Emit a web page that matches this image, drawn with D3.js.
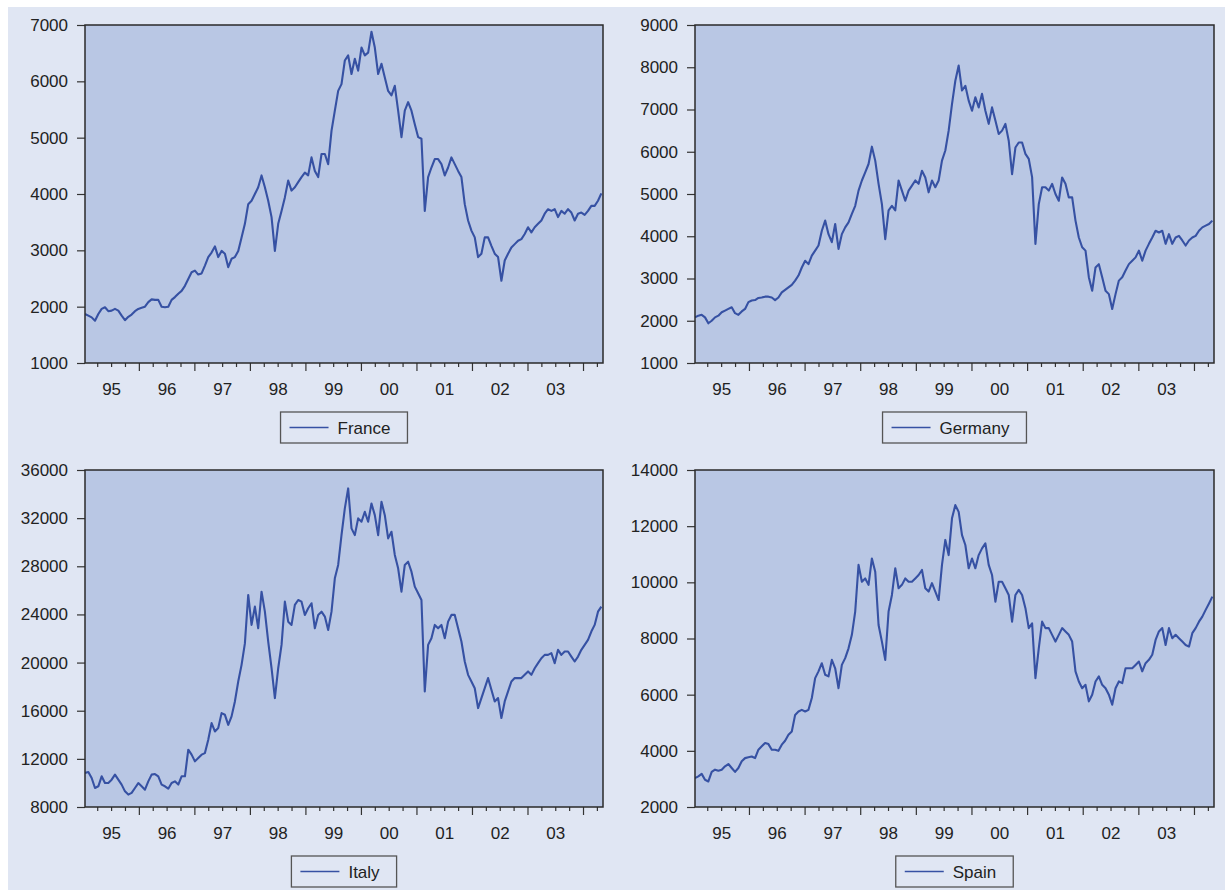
<!DOCTYPE html>
<html>
<head>
<meta charset="utf-8">
<script src="https://cdn.jsdelivr.net/npm/d3@7"></script>
<style>
  body { margin: 0; background: #fff; }
  text { font-family: "Liberation Sans", Arial, Helvetica, sans-serif; }
</style>
</head>
<body>
<div id="chart"></div>
<script>
// sampling grid: decimal years, one reading every 0.06 year (~3 weeks)
const startYear = 1995.03;
const stepYear = 0.06;
const yearLabels = ["95", "96", "97", "98", "99", "00", "01", "02", "03"];

const france = [1870,1840,1810,1750,1870,1960,1990,1920,1930,1960,
  1930,1840,1760,1820,1860,1920,1960,1980,2000,2080,
  2130,2120,2120,2000,1990,2000,2120,2170,2230,2280,
  2370,2490,2610,2640,2570,2590,2730,2880,2960,3070,
  2880,2990,2940,2700,2850,2880,2990,3230,3470,3820,
  3880,4000,4120,4330,4120,3880,3590,2990,3470,3700,
  3940,4240,4060,4120,4210,4300,4380,4330,4650,4410,
  4300,4710,4710,4530,5120,5480,5830,5950,6370,6460,
  6130,6400,6190,6600,6460,6510,6880,6600,6130,6310,
  6070,5830,5750,5920,5480,5010,5480,5630,5480,5240,
  5010,4980,3700,4300,4470,4620,4620,4530,4330,4470,
  4650,4530,4410,4300,3820,3530,3350,3230,2880,2940,
  3230,3230,3080,2940,2880,2460,2820,2940,3050,3110,
  3170,3200,3290,3410,3320,3410,3470,3530,3650,3730,
  3700,3730,3590,3700,3650,3730,3670,3530,3650,3670,
  3630,3700,3790,3790,3880,4010];

const germany = [2080,2120,2140,2080,1940,2000,2080,2120,2200,2240,
  2280,2320,2180,2140,2220,2280,2440,2480,2490,2540,
  2550,2570,2570,2550,2490,2550,2670,2730,2790,2850,
  2950,3070,3260,3420,3340,3540,3660,3780,4130,4370,
  4050,3860,4290,3700,4050,4210,4330,4530,4720,5080,
  5320,5510,5710,6120,5790,5240,4760,3930,4610,4720,
  4610,5320,5080,4840,5080,5200,5320,5240,5550,5390,
  5040,5320,5160,5320,5790,6030,6500,7130,7680,8040,
  7450,7560,7210,6970,7290,7050,7370,6970,6660,7050,
  6740,6420,6500,6660,6260,5470,6100,6220,6220,5950,
  5830,5400,3820,4760,5160,5160,5080,5240,5000,4840,
  5390,5240,4920,4920,4370,3970,3740,3660,3030,2710,
  3260,3340,3030,2710,2630,2280,2630,2950,3030,3190,
  3340,3420,3500,3660,3420,3660,3820,3970,4130,4090,
  4130,3820,4050,3820,3970,4010,3900,3780,3900,3970,
  4010,4130,4210,4250,4290,4370];

const italy = [10830,10910,10410,9580,9720,10550,9990,9990,10270,10690,
  10270,9860,9300,9030,9170,9580,9990,9720,9440,10130,
  10690,10740,10550,9860,9720,9520,9990,10130,9860,10550,
  10550,12760,12350,11790,12070,12350,12480,13590,14970,14280,
  14560,15800,15660,14830,15530,16770,18430,19810,21590,25620,
  23130,24650,22850,25890,24230,21750,19530,17050,19530,21470,
  25060,23400,23130,24790,25200,25060,23960,24510,24930,22850,
  23960,24230,23820,22710,24230,27000,28110,30590,32810,34470,
  31150,30590,31980,31700,32530,31700,33220,32250,30590,33360,
  32250,30320,30870,28940,27830,25890,28110,28380,27550,26310,
  25760,25200,17600,21470,22020,23130,22850,23130,22020,23400,
  23960,23960,22850,21750,20090,18980,18430,17870,16220,17050,
  17870,18710,17740,16770,17050,15390,16770,17600,18430,18710,
  18710,18710,18980,19260,18980,19530,19950,20360,20640,20640,
  20780,19950,21060,20640,20920,20920,20500,20090,20500,21060,
  21470,21890,22580,23130,24230,24650];

const spain = [3030,3090,3180,2970,2910,3250,3330,3290,3330,3450,
  3530,3390,3250,3390,3630,3740,3770,3800,3740,4040,
  4160,4280,4240,4040,4040,4000,4220,4360,4570,4690,
  5280,5400,5460,5400,5460,5880,6590,6830,7120,6710,
  6650,7240,6940,6230,7060,7300,7650,8130,8960,10620,
  10020,10140,9910,10850,10380,8480,7890,7240,8960,9550,
  10500,9790,9910,10140,10020,10020,10140,10260,10440,9790,
  9670,9970,9670,9370,10620,11510,10970,12280,12750,12510,
  11680,11330,10500,10850,10500,10970,11210,11390,10620,10260,
  9310,10020,10020,9790,9550,8600,9550,9730,9550,9080,
  8370,8540,6590,7650,8600,8370,8370,8130,7890,8130,
  8370,8250,8130,7890,6830,6470,6230,6350,5760,6000,
  6470,6650,6350,6230,6000,5640,6230,6470,6410,6940,
  6940,6940,7060,7180,6830,7120,7240,7420,7950,8250,
  8370,7770,8370,8010,8130,8010,7890,7770,7710,8190,
  8370,8600,8780,9020,9250,9490];

const franceTicks = [1000, 2000, 3000, 4000, 5000, 6000, 7000];
const germanyTicks = [1000, 2000, 3000, 4000, 5000, 6000, 7000, 8000, 9000];
const italyTicks = [8000, 12000, 16000, 20000, 24000, 28000, 32000, 36000];
const spainTicks = [2000, 4000, 6000, 8000, 10000, 12000, 14000];

const W = 1225, H = 890;
const bgColor = "#e0e6f3", plotColor = "#b9c7e4", lineColor = "#3651a3", inkColor = "#222";

const svg = d3.select("#chart").append("svg")
    .attr("width", W)
    .attr("height", H);

svg.append("rect")
    .attr("x", 8).attr("y", 7)
    .attr("width", W - 8).attr("height", H - 7)
    .attr("fill", bgColor);

const panels = [
  {name: "France", values: france, ticks: franceTicks, left: 85, right: 603, top: 25, bottom: 363},
  {name: "Germany", values: germany, ticks: germanyTicks, left: 695, right: 1214, top: 25, bottom: 363},
  {name: "Italy", values: italy, ticks: italyTicks, left: 85, right: 603, top: 470, bottom: 807},
  {name: "Spain", values: spain, ticks: spainTicks, left: 695, right: 1214, top: 470, bottom: 807}
];

const xDomain = [1995.03, 2004.36];
const majorYears = d3.range(1996, 2005);
const midYears = d3.range(1995.5, 2004, 1);
const quarters = d3.range(1995.25, 2004.3, 0.25).filter(function (d) { return Math.abs(d - Math.round(d)) > 0.01; });

panels.forEach(function (p, k) {
    let x = d3.scaleLinear().domain(xDomain).range([p.left, p.right]);
    let y = d3.scaleLinear().domain(d3.extent(p.ticks)).range([p.bottom, p.top]);

    let g = svg.append("g");

    g.append("rect")
        .attr("x", p.left).attr("y", p.top)
        .attr("width", p.right - p.left).attr("height", p.bottom - p.top)
        .attr("fill", plotColor);

    g.append("clipPath").attr("id", "clip" + k)
        .append("rect")
        .attr("x", p.left).attr("y", p.top)
        .attr("width", p.right - p.left).attr("height", p.bottom - p.top);

    let line = d3.line()
        .x(function (d, i) { return x(startYear + i * stepYear); })
        .y(function (d) { return y(d); });

    g.append("path")
        .datum(p.values)
        .attr("clip-path", "url(#clip" + k + ")")
        .attr("fill", "none")
        .attr("stroke", lineColor)
        .attr("stroke-width", 2.1)
        .attr("stroke-linejoin", "round")
        .attr("d", line);

    // y axis
    let yAxis = g.append("g")
        .attr("transform", "translate(" + p.left + ",0)")
        .call(d3.axisLeft(y).tickValues(p.ticks).tickSize(8).tickPadding(9).tickFormat(d3.format("d")));

    // x axis: year ticks, quarter ticks, labels in mid-year
    let xMajor = g.append("g")
        .attr("transform", "translate(0," + p.bottom + ")")
        .call(d3.axisBottom(x).tickValues(majorYears).tickSize(8).tickFormat(""));
    let xMinor = g.append("g")
        .attr("transform", "translate(0," + p.bottom + ")")
        .call(d3.axisBottom(x).tickValues(quarters).tickSize(4).tickFormat(""));
    let xLabels = g.append("g")
        .attr("transform", "translate(0," + p.bottom + ")")
        .call(d3.axisBottom(x).tickValues(midYears).tickSize(0).tickPadding(20)
            .tickFormat(function (d, i) { return yearLabels[i]; }));

    [yAxis, xMajor, xMinor, xLabels].forEach(function (a) {
        a.select(".domain").remove();
        a.selectAll(".tick line").attr("stroke", "#333").attr("stroke-width", 1.2);
        a.selectAll(".tick text")
            .attr("fill", inkColor)
            .style("font-size", "17px")
            .style("font-family", "'Liberation Sans', Arial, sans-serif");
    });

    // frame
    g.append("rect")
        .attr("x", p.left).attr("y", p.top)
        .attr("width", p.right - p.left).attr("height", p.bottom - p.top)
        .attr("fill", "none")
        .attr("stroke", "#2a2a2a")
        .attr("stroke-width", 1.5);

    // legend
    let leg = g.append("g");
    let legText = leg.append("text")
        .attr("y", p.bottom + 49 + 21.5)
        .attr("fill", inkColor)
        .style("font-size", "17px")
        .text(p.name);
    let tw = legText.node().getComputedTextLength();
    let boxW = tw + 74;
    let bx = (p.left + p.right) / 2 - boxW / 2;
    legText.attr("x", bx + 57);
    leg.insert("rect", "text")
        .attr("x", bx).attr("y", p.bottom + 49)
        .attr("width", boxW).attr("height", 31)
        .attr("fill", "none")
        .attr("stroke", "#555")
        .attr("stroke-width", 1.3);
    leg.append("line")
        .attr("x1", bx + 9).attr("x2", bx + 48)
        .attr("y1", p.bottom + 49 + 15.5).attr("y2", p.bottom + 49 + 15.5)
        .attr("stroke", lineColor)
        .attr("stroke-width", 1.5);
});
</script>
</body>
</html>
